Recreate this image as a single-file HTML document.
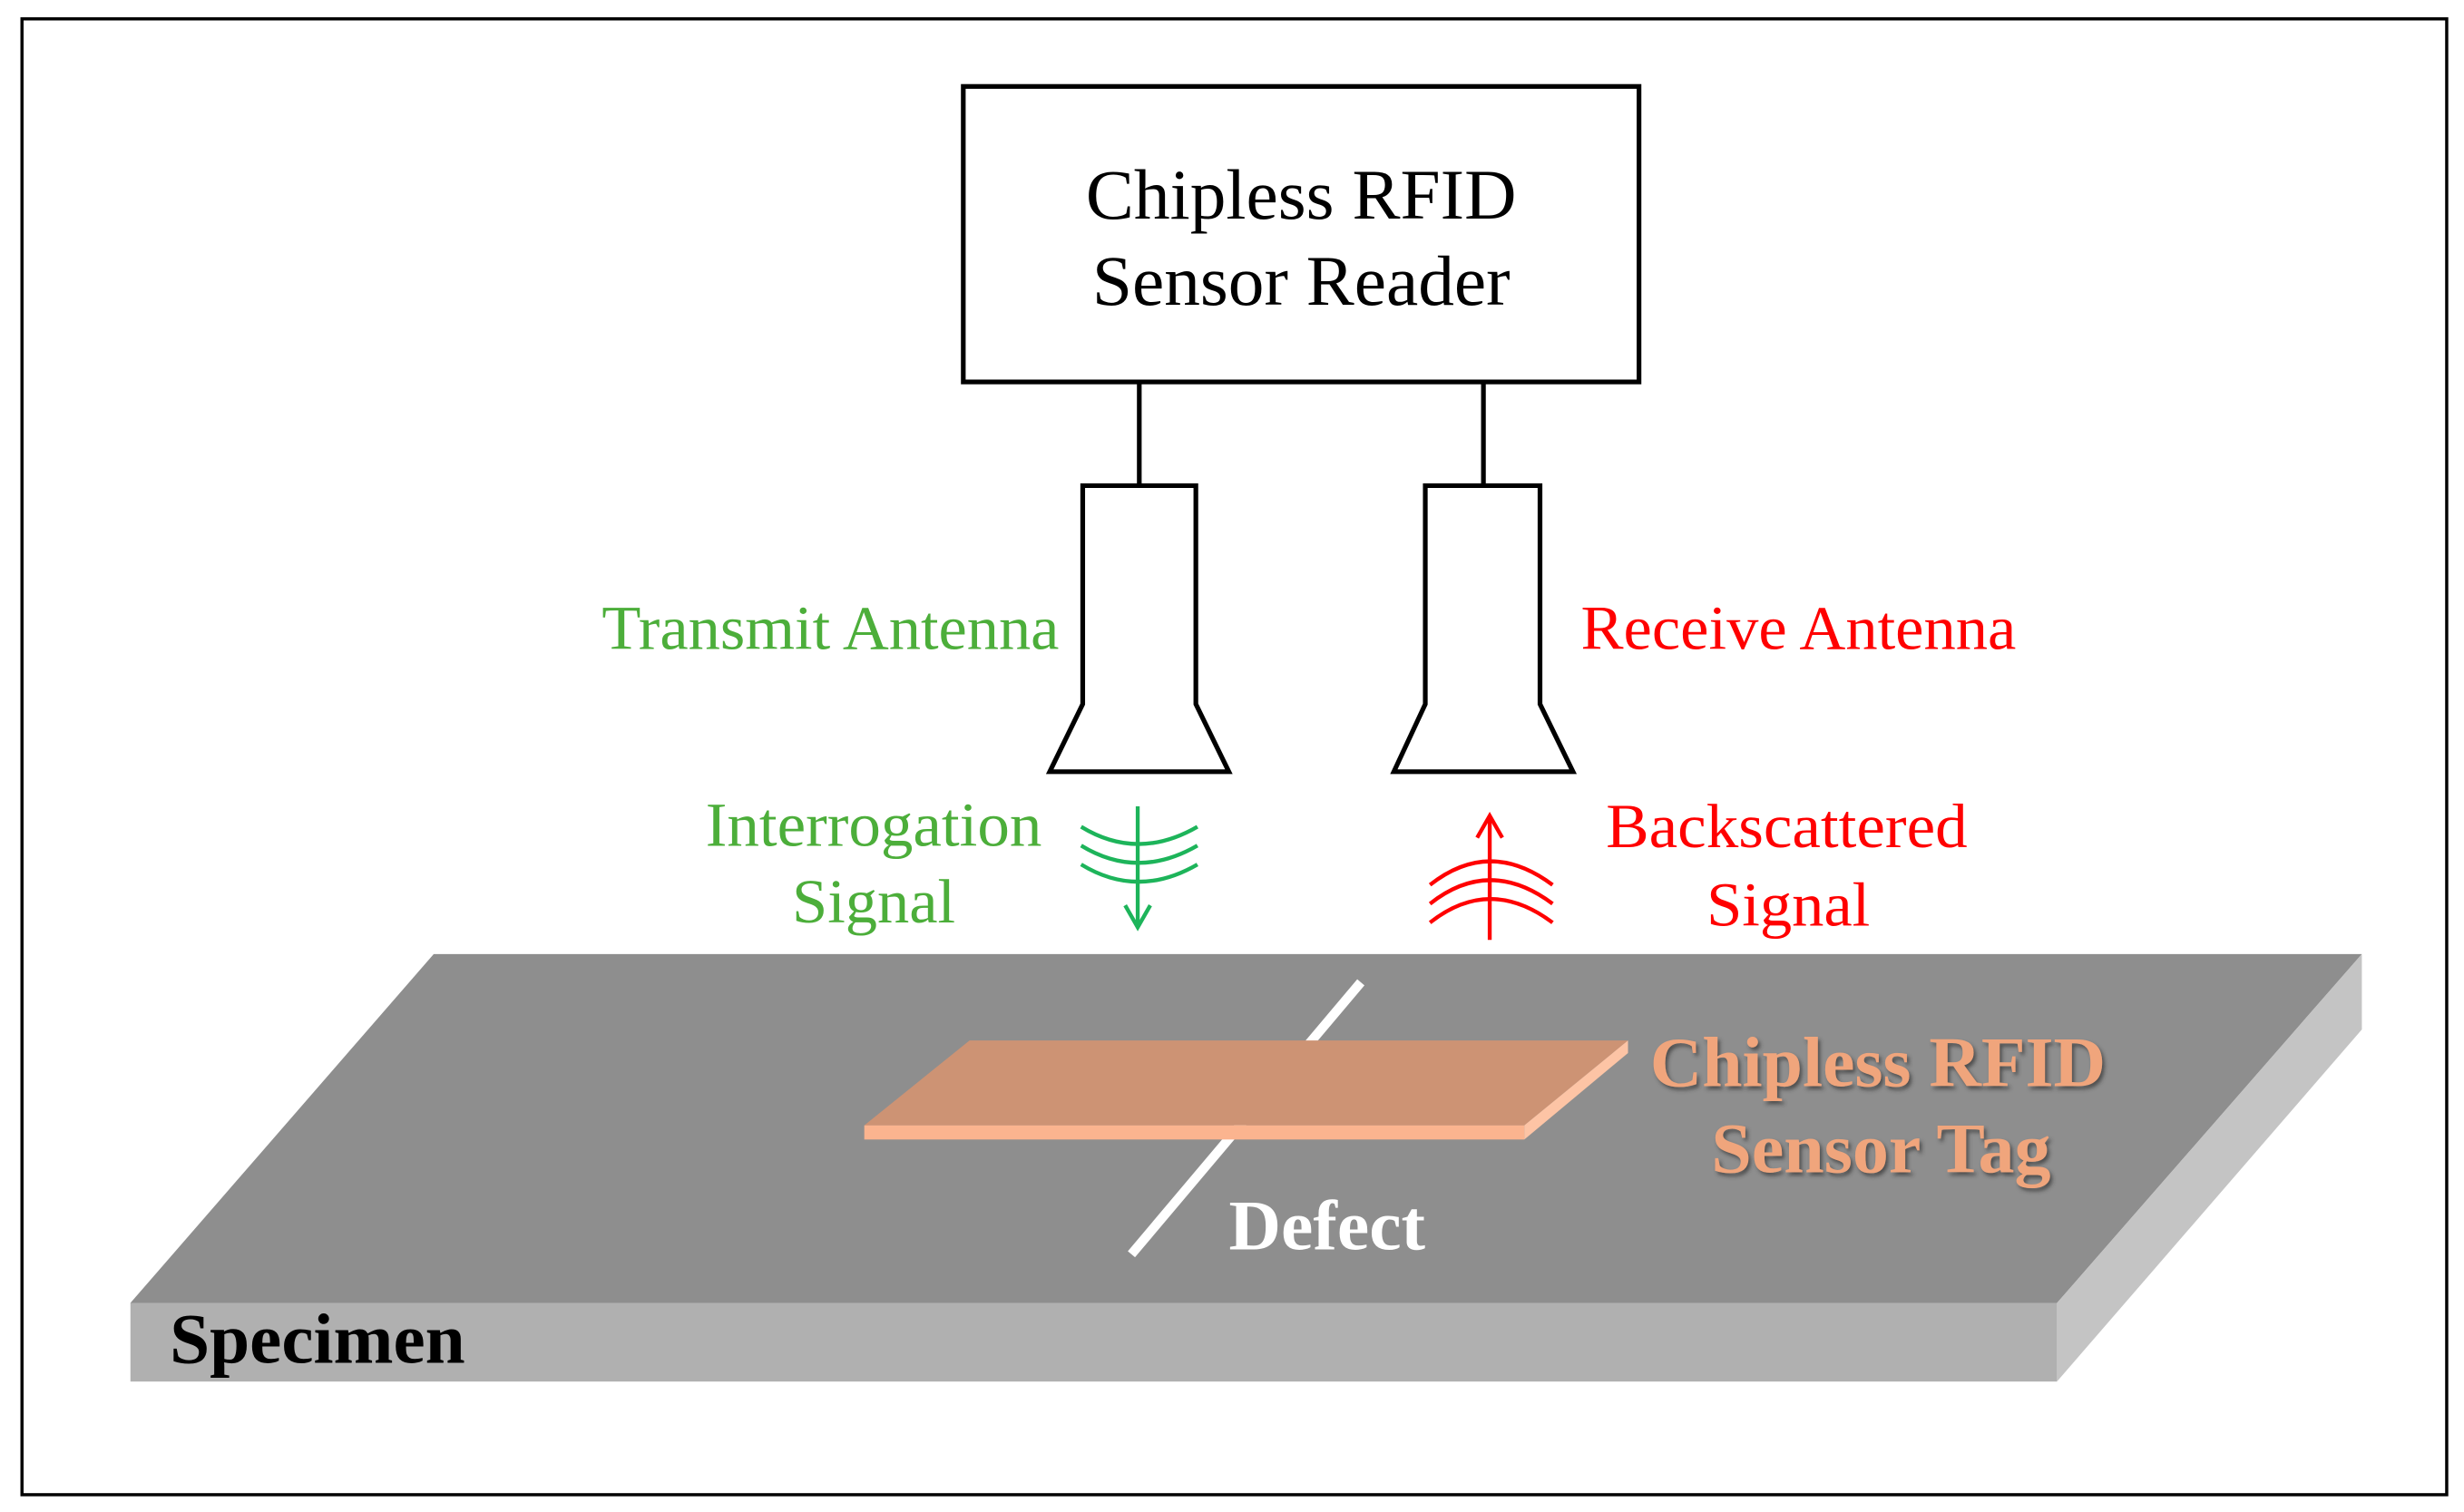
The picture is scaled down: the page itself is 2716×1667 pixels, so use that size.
<!DOCTYPE html>
<html><head><meta charset="utf-8"><style>html,body{margin:0;padding:0;background:#fff}svg{display:block}</style></head>
<body>
<svg width="2716" height="1667" viewBox="0 0 1568 962" preserveAspectRatio="none" xmlns="http://www.w3.org/2000/svg" font-family="Liberation Serif, serif">
<defs><filter id="sh" x="-10%" y="-10%" width="130%" height="140%"><feDropShadow dx="1.5" dy="2" stdDeviation="1.2" flood-color="#333" flood-opacity="0.7"/></filter></defs>
<rect x="14" y="12" width="1543" height="939" fill="#fff" stroke="#000" stroke-width="2"/>
<rect x="613" y="55" width="430" height="188" fill="none" stroke="#000" stroke-width="3"/>
<text x="691" y="139" font-size="45" textLength="274" lengthAdjust="spacingAndGlyphs">Chipless RFID</text>
<text x="695" y="194" font-size="45" textLength="266" lengthAdjust="spacingAndGlyphs">Sensor Reader</text>
<g fill="none" stroke="#000" stroke-width="3">
<line x1="725" y1="243" x2="725" y2="309"/><line x1="944" y1="243" x2="944" y2="309"/>
<path d="M689,448 V309 H761 V448 L782,491 H668 Z"/>
<path d="M907,448 V309 H980 V448 L1001,491 H887 Z"/>
</g>
<g font-size="40" fill="#4cae3a">
<text x="383" y="413" textLength="291" lengthAdjust="spacingAndGlyphs">Transmit Antenna</text>
<text x="449" y="538" textLength="214" lengthAdjust="spacingAndGlyphs">Interrogation</text>
<text x="504" y="587" textLength="104" lengthAdjust="spacingAndGlyphs">Signal</text>
</g>
<g font-size="40" fill="#f00">
<text x="1006" y="413" textLength="277" lengthAdjust="spacingAndGlyphs">Receive Antenna</text>
<text x="1022" y="539" textLength="230" lengthAdjust="spacingAndGlyphs">Backscattered</text>
<text x="1086" y="589" textLength="104" lengthAdjust="spacingAndGlyphs">Signal</text>
</g>
<g fill="none" stroke="#1db45a" stroke-width="2.5">
<line x1="724" y1="513" x2="724" y2="590"/>
<path d="M716,576 L724,590 L732,576"/>
<path d="M688,526 Q724,548 762,526"/>
<path d="M688,538 Q724,560 762,538"/>
<path d="M688,550 Q724,572 762,550"/>
</g>
<g fill="none" stroke="#f00" stroke-width="2.5">
<line x1="948" y1="519" x2="948" y2="598"/>
<path d="M940,533 L948,519 L956,533"/>
<path d="M910,563 Q948,533 988,563"/>
<path d="M910,575 Q948,545 988,575"/>
<path d="M910,587 Q948,557 988,587"/>
</g>
<polygon points="276,607 1503,607 1309,829 83,829" fill="#8e8e8e"/>
<rect x="83" y="829" width="1226" height="50" fill="#b0b0b0"/>
<polygon points="1309,829 1503,607 1503,655 1309,879" fill="#c4c4c4"/>
<line x1="866" y1="625" x2="720" y2="798" stroke="#fff" stroke-width="6"/>
<polygon points="617,662 1036,662 970,716 550,716" fill="#cd9374"/>
<rect x="550" y="716" width="420" height="9" fill="#fbb48f"/>
<polygon points="970,716 1036,662 1036,670 970,725" fill="#fdc4a5"/>
<g font-size="45" font-weight="bold" fill="#f0a57c" filter="url(#sh)">
<text x="1050" y="691" textLength="290" lengthAdjust="spacingAndGlyphs">Chipless RFID</text>
<text x="1089" y="746" textLength="216" lengthAdjust="spacingAndGlyphs">Sensor Tag</text>
</g>
<text x="782" y="795" font-size="45" font-weight="bold" fill="#fff" textLength="125" lengthAdjust="spacingAndGlyphs">Defect</text>
<text x="108" y="867" font-size="45" font-weight="bold" fill="#000" textLength="188" lengthAdjust="spacingAndGlyphs">Specimen</text>
</svg>
</body></html>
